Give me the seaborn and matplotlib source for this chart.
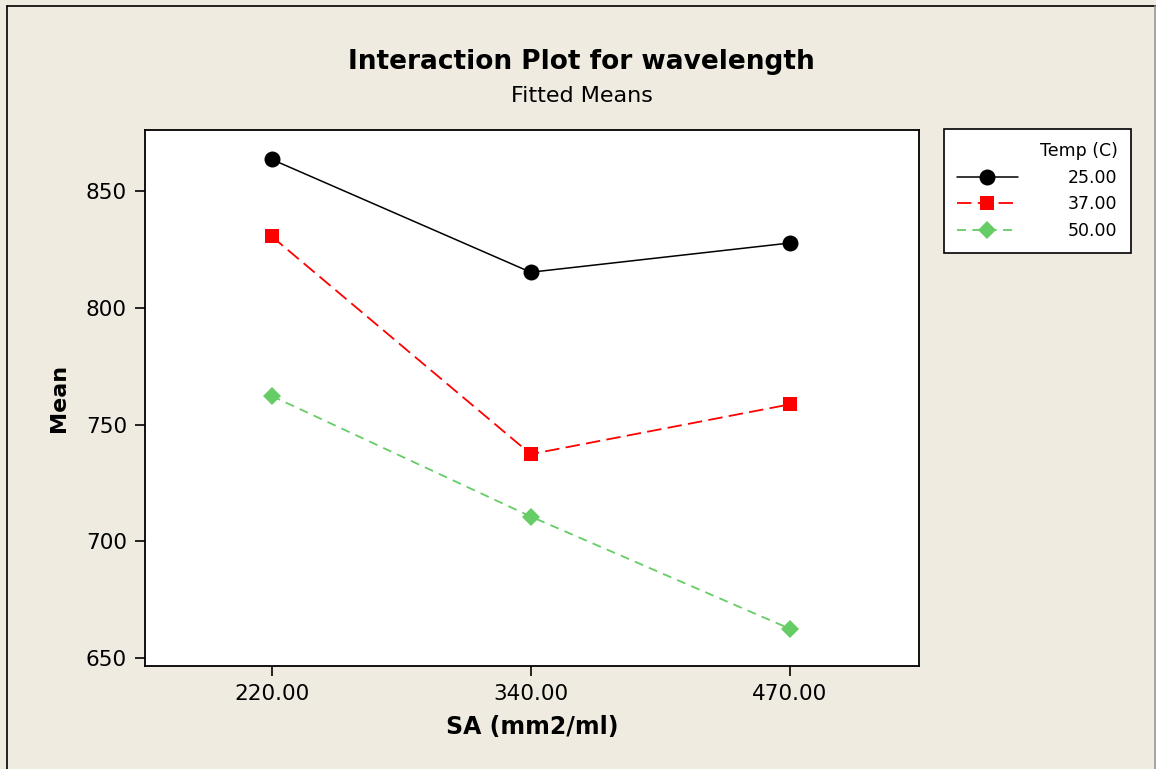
import matplotlib
matplotlib.use("Agg")
import matplotlib.pyplot as plt
import seaborn as sns
import pandas as pd
from matplotlib.lines import Line2D

sa_levels = ["220.00", "340.00", "470.00"]
temp_levels = ["25.00", "37.00", "50.00"]
mean_25 = [863.5, 815.2, 827.7]
mean_37 = [830.5, 737.3, 758.6]
mean_50 = [762.2, 710.6, 662.6]
y_ticks = [650, 700, 750, 800, 850]

rows = []
for temp, vals in zip(temp_levels, [mean_25, mean_37, mean_50]):
    for sa, v in zip(sa_levels, vals):
        rows.append({"SA": sa, "Temp": temp, "Mean": v})
df = pd.DataFrame(rows)

sns.set_theme(style="white")
plt.rcParams["font.family"] = ["DejaVu Sans"]
plt.rcParams["text.color"] = "black"
plt.rcParams["axes.labelcolor"] = "black"
plt.rcParams["xtick.color"] = "black"
plt.rcParams["ytick.color"] = "black"
bg = "#EFEBE0"
fig = plt.figure(figsize=(11.56, 7.69), dpi=100, facecolor=bg)
ax = fig.add_axes([145/1156, 1-666/769, (919-145)/1156, (666-130)/769])
ax.set_facecolor("white")

palette = {"25.00": "#000000", "37.00": "#FF0000", "50.00": "#66CC66"}
markers = {"25.00": "o", "37.00": "s", "50.00": "D"}
dashes = {"25.00": "", "37.00": (8, 3.5), "50.00": (5, 3.5)}
sns.lineplot(data=df, x="SA", y="Mean", hue="Temp", style="Temp",
             palette=palette, markers=markers, dashes=dashes,
             hue_order=temp_levels, style_order=temp_levels,
             linewidth=1.3, markersize=10, markeredgewidth=0, ax=ax, sort=False)

sizes = {"25.00": 11.5, "37.00": 10.0, "50.00": 9.5}
widths = {"25.00": 1.1, "37.00": 1.3, "50.00": 1.3}
for ln, t in zip(ax.lines[:3], temp_levels):
    ln.set_markersize(sizes[t])
    ln.set_linewidth(widths[t])
if ax.get_legend() is not None:
    ax.get_legend().remove()

ax.set_xlim(-0.49, 2.5)
ax.set_ylim(646.6, 876.1)
ax.set_yticks(y_ticks)
ax.set_yticklabels([str(v) for v in y_ticks])
for s in ax.spines.values():
    s.set_color("black")
    s.set_linewidth(1.3)
ax.tick_params(axis="both", direction="out", length=7, width=1.2, color="black",
               labelsize=15.5, labelcolor="black", left=True, bottom=True, pad=6)
ax.set_xlabel("SA (mm2/ml)", fontsize=17, fontweight="bold", labelpad=8)
ax.set_ylabel("Mean", fontsize=16, fontweight="bold", labelpad=12)

fig.text(0.503, 0.919, "Interaction Plot for wavelength", ha="center", va="center",
         fontsize=19, fontweight="bold", color="black")
fig.text(0.503, 0.875, "Fitted Means", ha="center", va="center", fontsize=16, color="black")

lh = []
lbl = []
for t in temp_levels:
    ls = "-" if t == "25.00" else (0, dashes[t])
    lh.append(Line2D([], [], color=palette[t], marker=markers[t], markersize=sizes[t],
                     markeredgewidth=0, linestyle=ls, linewidth=widths[t]))
    lbl.append(t)
leg = fig.legend(lh, lbl, title="Temp (C)", loc="upper left",
                 bbox_to_anchor=(944/1156, 1-129/769), borderaxespad=0,
                 fontsize=12.5, title_fontsize=12.5,
                 frameon=True, fancybox=False, framealpha=1, handlelength=3.5,
                 handletextpad=2.9, borderpad=0.75, labelspacing=0.5, alignment="right")
leg.get_frame().set_edgecolor("black")
leg.get_frame().set_linewidth(1.2)
leg.get_frame().set_facecolor("white")

fig.add_artist(Line2D([7/1156, 7/1156], [0, 1-6/769], color="black", linewidth=1.2))
fig.add_artist(Line2D([7/1156, 1], [1-6/769, 1-6/769], color="black", linewidth=1.2))
fig.add_artist(Line2D([1155/1156, 1155/1156], [0, 1-6/769], color="#999999", linewidth=1.2))

fig.savefig("out.png", dpi=100, facecolor=bg)
